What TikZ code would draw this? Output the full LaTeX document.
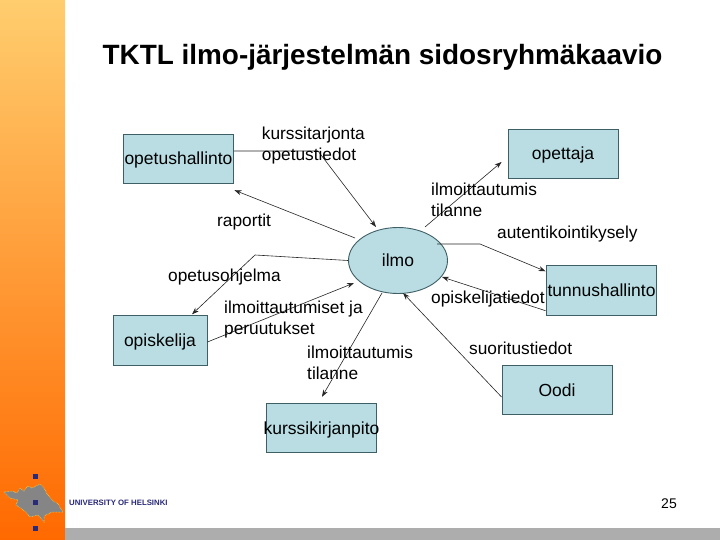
\documentclass[tikz,border=0pt]{standalone}
\usepackage{fontspec}
\setmainfont{Liberation Sans}
\usetikzlibrary{calc,arrows.meta,shapes.geometric}
\definecolor{boxfill}{HTML}{B9DDE3}
\definecolor{boxline}{HTML}{3F5F66}
\definecolor{navy}{HTML}{2A2A78}
\tikzset{
  entity/.style={draw=boxline,fill=boxfill,line width=0.9pt,minimum width=#1,minimum height=49.5pt,inner sep=0pt,text height=14pt,text depth=2pt,font=\fontsize{17.5}{20}\selectfont},
  blob/.style={ellipse,draw=boxline,fill=boxfill,line width=0.9pt,minimum width=99pt,minimum height=66pt,inner sep=0pt,text height=14pt,text depth=2pt,font=\fontsize{17.5}{20}\selectfont},
  lab/.style={anchor=west,align=left,inner sep=0pt,font=\fontsize{17.3}{21}\selectfont},
  flow/.style={draw=black!85,line width=0.6pt,-{Stealth[length=7pt,width=5pt]}}
}
\begin{document}
\begin{tikzpicture}[x=1pt,y=-1pt]
\useasboundingbox (0,0) rectangle (720,540);
\fill[white] (0,0) rectangle (720,540);
\fill[top color={rgb,255:red,255;green,205;blue,110},bottom color={rgb,255:red,255;green,105;blue,0}] (0,0) rectangle (65,540);
\fill[black!32] (65,528) rectangle (720,540);
% logo
\fill[black!48,draw=yellow!70!white,densely dotted,line width=0.5pt]
 (4,492) -- (12,491) -- (17,493) -- (20,488) -- (24,491) -- (28,486) -- (32,488) -- (40,484) -- (44,488) -- (47,494) -- (52,500) -- (58,504) -- (63,512) -- (52,512) -- (44,516) -- (44,522) -- (38,515) -- (30,517) -- (26,512) -- (22,509) -- (16,505) -- (18,500) -- (10,498) -- cycle;
\fill[navy] (32.5,473.5) rectangle (38,479);
\fill[navy] (32.5,499.5) rectangle (38,505);
\fill[navy] (32.5,525.5) rectangle (38,531);
\node[anchor=west,inner sep=0pt,text=navy,font=\bfseries\fontsize{7.8}{9}\selectfont] (uni) at (69,502.5) {UNIVERSITY OF HELSINKI};
\node[anchor=center,inner sep=0pt,font=\fontsize{14}{16}\selectfont] (page) at (669,504) {25};
\node[anchor=center,inner sep=0pt,font=\bfseries\fontsize{27.9}{32}\selectfont] (title) at (382.5,57) {TKTL ilmo-järjestelmän sidosryhmäkaavio};
% entities
\node[entity=110pt] (hall) at (178.5,159) {opetushallinto};
\node[entity=110pt] (ope) at (563,154) {opettaja};
\node[entity=110pt] (tun) at (601.5,290.5) {tunnushallinto};
\node[entity=94pt] (opi) at (160,340.5) {opiskelija};
\node[entity=110pt] (kur) at (321.5,428) {\makebox[0pt]{kurssikirjanpito}};
\node[entity=110pt] (oodi) at (557,390) {Oodi};
\node[blob] (ilmo) at (398,260.5) {ilmo};
% connectors
\coordinate (b1) at (318,151);
\coordinate (b3) at (255,255);
\coordinate (b7) at (480,244);
\draw[flow] (hall.east |- b1) -- (b1) -- ($(ilmo.center)+(-22,-33.5)$);
\draw[flow] ($(ilmo.center)+(-43,-22.5)$) -- ($(hall.south east)+(0.5,6)$);
\draw[flow] (ilmo.west) -- (b3) -- ($(opi.north)+(32,-1)$);
\draw[flow] ($(opi.east)+(0,1.5)$) -- ($(ilmo.center)+(-44,22.5)$);
\draw[flow] ($(ilmo.center)+(-16,32.5)$) -- ($(kur.north)+(0.5,-6)$);
\draw[flow] ($(ilmo.center)+(27,-33.5)$) -- ($(ope.west)+(-6,8)$);
\draw[flow] ($(ilmo.center)+(39,-16.5)$) -- (b7) -- ($(tun.north west)+(-0.5,6)$);
\draw[flow] ($(tun.south west)+(-0.5,-5)$) -- ($(ilmo.center)+(44,16.5)$);
\draw[flow] ($(oodi.west)+(0,7)$) -- ($(ilmo.center)+(5,32.5)$);
% labels
\node[lab] (l1) at (261.7,146) {kurssitarjonta\\opetustiedot};
\node[lab] (l2) at (217,222) {raportit};
\node[lab] (l3) at (168,277) {opetusohjelma};
\node[lab] (l4) at (224,320) {ilmoittautumiset ja\\peruutukset};
\node[lab] (l5) at (307,362.5) {ilmoittautumis\\tilanne};
\node[lab] (l6) at (431,200) {ilmoittautumis\\tilanne};
\node[lab] (l7) at (497,234) {autentikointikysely};
\node[lab] (l8) at (431,299) {opiskelijatiedot};
\node[lab] (l9) at (469,348) {suoritustiedot};
\end{tikzpicture}
\end{document}
